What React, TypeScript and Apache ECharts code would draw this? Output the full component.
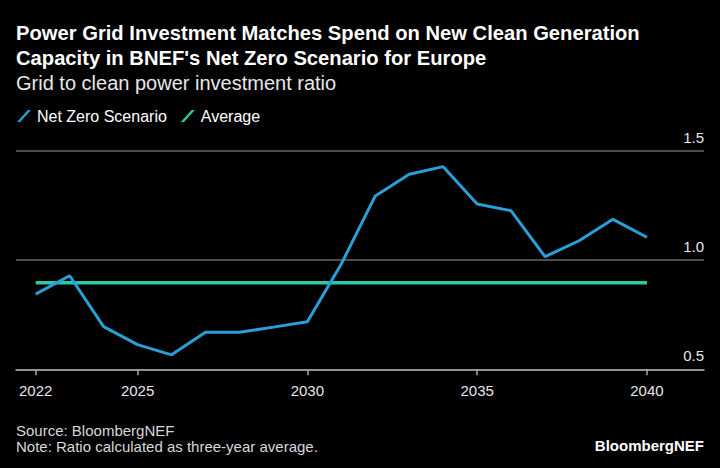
import React, { useEffect, useRef } from "react";
import * as echarts from "echarts";

const years = [2022, 2023, 2024, 2025, 2026, 2027, 2028, 2029, 2030, 2031, 2032, 2033, 2034, 2035, 2036, 2037, 2038, 2039, 2040];
const netZero = [0.844, 0.928, 0.695, 0.613, 0.566, 0.669, 0.669, 0.693, 0.718, 0.982, 1.293, 1.392, 1.427, 1.256, 1.225, 1.015, 1.088, 1.186, 1.104];
const averageValue = 0.896;
const averageYears = [2022, 2040];
const xTickLabels = [2022, 2025, 2030, 2035, 2040];
const yTicks = [0.5, 1.0, 1.5];

const titleLines = [
  "Power Grid Investment Matches Spend on New Clean Generation",
  "Capacity in BNEF's Net Zero Scenario for Europe",
];
const subtitle = "Grid to clean power investment ratio";
const footnotes = ["Source: BloombergNEF", "Note: Ratio calculated as three-year average."];
const brand = "BloombergNEF";

const FONT = "'Liberation Sans', Arial, Helvetica, sans-serif";

export default function App() {
  const ref = useRef<HTMLDivElement>(null);
  useEffect(() => {
    document.body.style.margin = "0";
    document.body.style.background = "#000";
    const chart = echarts.init(ref.current!, null, { renderer: "svg" });
    const slash = "path://M0,12L3.2,12L14,0L10.8,0Z";
    chart.setOption({
      animation: false,
      backgroundColor: "#000000",
      textStyle: { fontFamily: FONT },
      grid: { left: 16, right: 16, top: 150.7, bottom: 98.7, containLabel: false },
      legend: {
        left: 12,
        top: 103,
        itemWidth: 14,
        itemHeight: 12,
        itemGap: 14,
        textStyle: { color: "#ffffff", fontSize: 16, fontFamily: FONT, padding: [0, 0, 0, 1] },
        data: [
          { name: "Net Zero Scenario", icon: slash, itemStyle: { color: "#2a9fd6" } },
          { name: "Average", icon: slash, itemStyle: { color: "#2cc9a8" } },
        ],
      },
      xAxis: {
        type: "value",
        min: 2021.42,
        max: 2041.68,
        axisLine: { show: true, lineStyle: { color: "#a8a8a8", width: 1.5 } },
        axisTick: { show: true, customValues: xTickLabels, length: 6, lineStyle: { color: "#a8a8a8", width: 1.5 } },
        axisLabel: {
          customValues: xTickLabels,
          color: "#e6e6e6",
          fontSize: 15,
          fontFamily: FONT,
          margin: 14,
          formatter: (v: number) => String(v),
        },
        splitLine: { show: false },
      },
      yAxis: {
        type: "value",
        position: "right",
        min: 0.5,
        max: 1.5,
        interval: 0.5,
        axisLine: { show: false },
        axisTick: { show: false },
        axisLabel: {
          inside: true,
          margin: 0,
          color: "#e6e6e6",
          fontSize: 15,
          fontFamily: FONT,
          verticalAlign: "bottom",
          padding: [0, 0, 6, 0],
          formatter: (v: number) => (yTicks.includes(v) ? v.toFixed(1) : ""),
        },
        splitLine: { show: true, lineStyle: { color: "#666666", width: 1.5 } },
      },
      series: [
        {
          name: "Average",
          type: "line",
          data: averageYears.map((y) => [y, averageValue]),
          showSymbol: false,
          lineStyle: { color: "#2cc9a8", width: 3.5 },
          itemStyle: { color: "#2cc9a8" },
          z: 2,
        },
        {
          name: "Net Zero Scenario",
          type: "line",
          data: years.map((y, i) => [y, netZero[i]]),
          showSymbol: false,
          lineStyle: { color: "#2a9fd6", width: 3 },
          itemStyle: { color: "#2a9fd6" },
          z: 3,
        },
      ],
      graphic: [
        {
          type: "text",
          left: 16,
          top: 21,
          style: {
            text: titleLines.join("\n"),
            fill: "#ffffff",
            font: `bold 20.2px ${FONT}`,
            lineHeight: 24.6,
          },
        },
        {
          type: "text",
          left: 16,
          top: 72.5,
          style: { text: subtitle, fill: "#e8e8e8", font: `20px ${FONT}` },
        },
        {
          type: "text",
          left: 16,
          top: 422,
          style: {
            text: footnotes.join("\n"),
            fill: "#d8d8d8",
            font: `15px ${FONT}`,
            lineHeight: 16.6,
          },
        },
        {
          type: "text",
          right: 16,
          top: 438,
          style: { text: brand, fill: "#ffffff", font: `bold 15px ${FONT}` },
        },
      ],
    });
    return () => chart.dispose();
  }, []);
  return <div ref={ref} style={{ width: 720, height: 468 }} />;
}
